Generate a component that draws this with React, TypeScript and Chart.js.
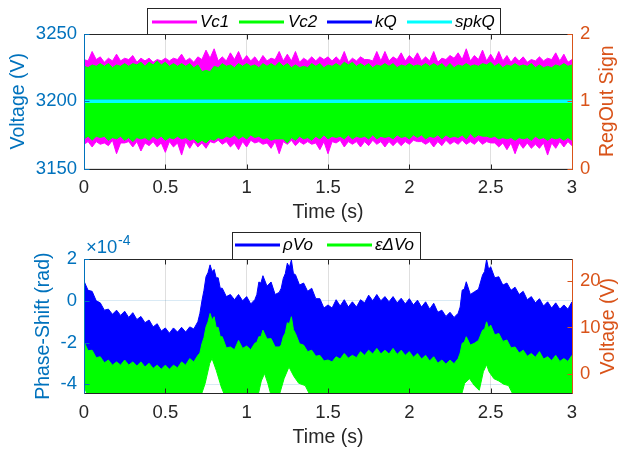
import React, { useEffect, useRef } from 'react';
import { Chart, registerables } from 'chart.js';

Chart.register(...registerables);

// ---------- data: top chart (time in s) ----------
const T_TOP = [
  0, 0.05, 0.1, 0.15, 0.2, 0.25, 0.3, 0.35, 0.4, 0.45, 0.5, 0.55, 0.6, 0.65, 0.7, 0.75, 0.8, 0.85, 0.9, 0.95, 1.0,
  1.05, 1.1, 1.15, 1.2, 1.25, 1.3, 1.35, 1.4, 1.45, 1.5, 1.55, 1.6, 1.65, 1.7, 1.75, 1.8, 1.85, 1.9, 1.95, 2.0,
  2.05, 2.1, 2.15, 2.2, 2.25, 2.3, 2.35, 2.4, 2.45, 2.5, 2.55, 2.6, 2.65, 2.7, 2.75, 2.8, 2.85, 2.9, 2.95, 3.0,
];
// Vc1 envelope: peaks at T_TOP and levels between them (V)
const VC1_HI = [
  3231, 3237, 3233, 3232, 3235, 3232, 3234, 3232, 3232, 3231, 3232, 3232, 3235, 3232, 3233, 3238, 3239, 3233, 3236, 3237, 3234,
  3233, 3234, 3232, 3237, 3235, 3237, 3232, 3233, 3233, 3233, 3233, 3237, 3232, 3233, 3231, 3237, 3237, 3233, 3236, 3234,
  3236, 3233, 3237, 3232, 3234, 3236, 3239, 3234, 3238, 3235, 3237, 3234, 3233, 3233, 3231, 3233, 3232, 3236, 3235, 3231,
];
const VC1_HI_MID = [
  3230, 3231, 3229, 3230, 3230, 3231, 3229, 3230, 3229, 3230, 3230, 3231, 3230, 3229, 3231, 3232, 3230, 3230, 3231, 3230,
  3230, 3229, 3230, 3231, 3230, 3230, 3229, 3230, 3230, 3231, 3230, 3230, 3229, 3230, 3231, 3230, 3230, 3230, 3231, 3230,
  3231, 3230, 3230, 3229, 3231, 3232, 3231, 3230, 3231, 3230, 3230, 3230, 3229, 3230, 3229, 3230, 3230, 3231, 3230, 3229,
];
const VC1_LO = [
  3168, 3166, 3168, 3167, 3161, 3169, 3166, 3163, 3167, 3166, 3162, 3166, 3160, 3165, 3166, 3165, 3169, 3168, 3166, 3164, 3166,
  3169, 3168, 3165, 3161, 3168, 3167, 3168, 3168, 3164, 3161, 3169, 3166, 3168, 3166, 3167, 3168, 3166, 3167, 3167, 3168,
  3170, 3168, 3166, 3167, 3168, 3168, 3168, 3168, 3168, 3169, 3166, 3164, 3161, 3165, 3165, 3165, 3160, 3165, 3166, 3167,
];
const VC1_LO_MID = [
  3170, 3170, 3169, 3171, 3169, 3170, 3170, 3169, 3170, 3169, 3170, 3169, 3170, 3170, 3169, 3170, 3171, 3170, 3169, 3170,
  3171, 3170, 3169, 3170, 3170, 3171, 3170, 3170, 3169, 3170, 3170, 3171, 3170, 3170, 3170, 3171, 3170, 3170, 3170, 3170,
  3171, 3170, 3170, 3170, 3171, 3170, 3171, 3170, 3171, 3170, 3169, 3169, 3169, 3169, 3169, 3168, 3169, 3169, 3170, 3170,
];
// Vc2 envelope (V)
const VC2_HI = [
  3226, 3227, 3228, 3228, 3227, 3228, 3228, 3229, 3229, 3230, 3229, 3228, 3228, 3228, 3227, 3223, 3226, 3228, 3227, 3228, 3228,
  3227, 3228, 3228, 3229, 3228, 3227, 3226, 3228, 3228, 3227, 3228, 3229, 3229, 3228, 3228, 3227, 3228, 3228, 3227, 3228,
  3227, 3228, 3228, 3228, 3228, 3227, 3228, 3227, 3228, 3229, 3228, 3227, 3228, 3227, 3228, 3227, 3226, 3227, 3228, 3227,
];
const VC2_HI_MID = [
  3225, 3226, 3226, 3225, 3226, 3226, 3227, 3226, 3227, 3227, 3226, 3226, 3226, 3225, 3222, 3222, 3225, 3226, 3225, 3226,
  3226, 3225, 3226, 3226, 3226, 3225, 3225, 3225, 3226, 3225, 3226, 3226, 3227, 3226, 3226, 3225, 3226, 3226, 3225, 3226,
  3226, 3226, 3226, 3226, 3225, 3225, 3226, 3226, 3226, 3227, 3226, 3225, 3226, 3226, 3226, 3225, 3225, 3225, 3226, 3226,
];
const VC2_LO = [
  3172, 3171, 3173, 3171, 3172, 3171, 3170, 3172, 3171, 3172, 3171, 3172, 3172, 3171, 3169, 3169, 3171, 3172, 3173, 3172, 3172,
  3173, 3172, 3171, 3172, 3169, 3171, 3172, 3171, 3172, 3172, 3173, 3172, 3172, 3173, 3172, 3172, 3173, 3172, 3173, 3172,
  3173, 3172, 3173, 3172, 3173, 3173, 3172, 3173, 3174, 3173, 3172, 3172, 3171, 3172, 3171, 3172, 3171, 3172, 3171, 3171,
];
const VC2_LO_MID = [
  3174, 3174, 3174, 3173, 3174, 3173, 3173, 3173, 3174, 3174, 3173, 3174, 3173, 3172, 3171, 3172, 3173, 3174, 3175, 3174,
  3175, 3174, 3173, 3172, 3172, 3173, 3174, 3173, 3174, 3175, 3174, 3174, 3175, 3174, 3174, 3175, 3174, 3174, 3175, 3174,
  3175, 3175, 3174, 3175, 3175, 3174, 3175, 3176, 3175, 3174, 3174, 3173, 3173, 3173, 3173, 3174, 3173, 3173, 3173, 3173,
];
const T_FLAT = [0, 3];
const KQ = [1, 1];
const SPKQ = [1, 1];

// ---------- data: bottom chart ----------
const T_BOT = [
  0, 0.05, 0.1, 0.15, 0.2, 0.25, 0.3, 0.35, 0.4, 0.45, 0.5, 0.55, 0.6, 0.65, 0.7, 0.725, 0.75, 0.775, 0.8, 0.825, 0.85,
  0.9, 0.95, 1.0, 1.05, 1.075, 1.1, 1.15, 1.2, 1.225, 1.25, 1.275, 1.3, 1.35, 1.4, 1.45, 1.5, 1.55, 1.6, 1.65, 1.7,
  1.75, 1.8, 1.85, 1.9, 1.95, 2.0, 2.05, 2.1, 2.15, 2.2, 2.25, 2.3, 2.325, 2.35, 2.4, 2.45, 2.475, 2.5, 2.55, 2.6,
  2.65, 2.7, 2.75, 2.8, 2.85, 2.9, 2.95, 3.0,
];
// rhoVo upper envelope, x 1e-4 rad (peaks at T_BOT, ripple troughs between)
const RHO_HI = [
  0.94, 0.45, -0.1, -0.4, -0.45, -0.5, -0.57, -0.75, -0.92, -1.1, -1.3, -1.3, -1.27, -1.25, -1.0, 0.0, 1.15, 1.72, 1.5, 1.1, 0.6,
  0.3, 0.3, 0.2, 0.05, 0.9, 1.2, 0.9, 0.4, 1.07, 1.8, 1.95, 1.25, 0.85, 0.6, 0.1, -0.2, 0.05, 0.05, -0.05, 0.05,
  0.27, 0.3, 0.2, 0.2, 0.12, 0.1, 0.03, -0.05, -0.12, -0.45, -0.55, -0.6, 0.51, 0.91, 0.43, 1.23, 1.98, 1.63, 1.15, 0.85,
  0.65, 0.45, 0.2, 0.1, -0.05, -0.1, -0.2, -0.05,
];
const RHO_HI_MID = [
  0.5, 0.0, -0.45, -0.65, -0.7, -0.8, -0.9, -1.05, -1.25, -1.45, -1.55, -1.5, -1.5, -1.35, -0.6, 0.5, 1.35, 1.4, 1.1, 0.6,
  0.2, 0.05, 0.0, -0.15, 0.3, 0.85, 0.7, 0.3, 0.6, 1.3, 1.6, 1.3, 0.75, 0.45, 0.1, -0.35, -0.35, -0.25, -0.3, -0.3,
  -0.1, 0.0, 0.0, -0.05, -0.1, -0.15, -0.2, -0.3, -0.4, -0.55, -0.75, -0.8, -0.3, 0.55, 0.3, 0.55, 1.4, 1.5, 1.1, 0.75,
  0.5, 0.3, 0.05, -0.1, -0.25, -0.35, -0.4, -0.4,
];
// epsilon dVo upper envelope, V
const EPS_HI = [
  6.9, 5.1, 3.7, 3.0, 2.6, 3.0, 2.6, 2.6, 2.3, 1.9, 1.9, 1.9, 2.6, 3.3, 4.0, 6.5, 10.1, 13.0, 12.3, 10.0, 8.0,
  5.8, 7.2, 6.0, 6.6, 8.0, 9.4, 7.6, 5.8, 8.0, 11.0, 12.3, 8.7, 6.2, 5.1, 4.0, 3.0, 3.7, 4.4, 4.0, 4.8,
  5.1, 5.5, 5.1, 5.5, 5.1, 4.8, 4.4, 4.0, 3.7, 3.0, 3.0, 3.3, 6.6, 8.0, 6.6, 9.4, 11.2, 10.5, 8.7, 7.3,
  5.8, 5.1, 4.4, 4.8, 3.7, 4.0, 3.3, 4.0,
];
const EPS_HI_MID = [
  5.0, 3.5, 2.4, 1.9, 1.9, 1.9, 1.7, 1.5, 1.2, 1.0, 1.0, 1.3, 1.9, 2.6, 4.5, 7.8, 11.2, 11.6, 10.0, 8.0,
  5.6, 5.2, 5.5, 5.2, 6.8, 8.0, 7.5, 5.8, 6.2, 8.8, 10.8, 9.5, 6.5, 4.8, 3.8, 2.8, 2.6, 3.2, 3.4, 3.5,
  4.0, 4.3, 4.3, 4.3, 4.2, 4.0, 3.6, 3.2, 2.8, 2.3, 2.1, 2.2, 4.5, 6.8, 6.2, 7.2, 9.6, 9.8, 8.4, 7.0,
  5.6, 4.5, 3.8, 3.6, 3.2, 2.9, 2.7, 2.7,
];
// lower envelopes (mostly below the visible range)
const T_LO = [
  0, 0.02, 0.72, 0.745, 0.773, 0.787, 0.813, 0.844, 0.865, 1.07, 1.09, 1.11, 1.13, 1.15, 1.2, 1.23, 1.26, 1.29,
  1.32, 1.36, 1.39, 2.32, 2.34, 2.37, 2.4, 2.43, 2.455, 2.475, 2.49, 2.52, 2.55, 2.58, 2.61, 2.64, 3.0,
];
const EPS_LO = [
  -2.4, -4.6, -4.6, -2.0, 2.3, 3.35, 0.8, -2.8, -4.6, -4.6, -1.5, 0.1, -2.0, -4.6, -4.6, -1.0, 1.5, -0.5,
  -2.0, -2.5, -4.6, -4.6, -2.0, -1.0, -2.5, -3.5, 0.5, 2.0, 0.5, -1.0, -1.5, -2.2, -2.5, -4.6, -4.6,
];
const RHO_LO = [
  -3.69, -4.18, -4.18, -3.6, -2.65, -2.41, -2.98, -3.78, -4.18, -4.18, -3.49, -3.14, -3.6, -4.18, -4.18, -3.38, -2.82, -3.27,
  -3.6, -3.71, -4.18, -4.18, -3.6, -3.38, -3.71, -3.93, -3.05, -2.71, -3.05, -3.38, -3.49, -3.65, -3.71, -4.18, -4.18,
];

const X_TICKS = [0, 0.5, 1, 1.5, 2, 2.5, 3];
const TOP_L_TICKS = [3150, 3200, 3250];
const TOP_R_TICKS = [0, 1, 2];
const BOT_L_TICKS = [-4, -2, 0, 2];
const BOT_R_TICKS = [0, 10, 20];

// ---------- styles ----------
const FONT = '"Liberation Sans", Arial, Helvetica, sans-serif';
const AX = '#262626';
const BLUE_AX = '#0072BD';
const ORANGE_AX = '#D95319';
const GRID = 'rgba(38,38,38,0.15)';
const TICK_FONT = { family: FONT, size: 18.5, lineHeight: 1.2 };

const pts = (xs: number[], ys: number[]) => xs.map((x, i) => ({ x, y: ys[i] }));
// peaks at xs, intermediate levels at the middle of each interval
const ptsMid = (xs: number[], ys: number[], mids: number[]) => {
  const out: { x: number; y: number }[] = [];
  xs.forEach((x, i) => {
    out.push({ x, y: ys[i] });
    if (i < xs.length - 1) out.push({ x: (x + xs[i + 1]) / 2, y: mids[i] });
  });
  return out;
};

const base = { pointRadius: 0, tension: 0, clip: 0 } as any;

function band(lo: any[], hi: any[], color: string, axis: string, orderLo: number) {
  return [
    { ...base, data: lo, yAxisID: axis, borderColor: color, borderWidth: 1, fill: false, order: orderLo },
    { ...base, data: hi, yAxisID: axis, borderColor: color, backgroundColor: color, borderWidth: 1, fill: '-1', order: orderLo - 1 },
  ];
}

type LegendItem = { color: string; x1: number; x2: number; text: string; tx: number };
type Decor = {
  xTitleY: number;
  leftTitle: string; leftTitleX: number;
  rightTitle: string; rightTitleX: number;
  lTicks: number[]; rTicks: number[];
  legendBox: [number, number, number, number];
  legendY: number;
  items: LegendItem[];
  exponent?: boolean;
};

function decorPlugin(d: Decor) {
  return {
    id: 'decor',
    afterDatasetsDraw(chart: any) {
      const { ctx, chartArea: a, scales } = chart;
      const L = Math.round(a.left) + 0.5;
      const R = Math.round(a.right) + 0.5;
      const T = Math.round(a.top) + 0.5;
      const B = Math.round(a.bottom) + 0.5;
      const TL = 5;
      ctx.save();
      ctx.lineWidth = 1;
      ctx.strokeStyle = AX;
      ctx.beginPath();
      ctx.moveTo(L, T); ctx.lineTo(R, T);
      ctx.moveTo(L, B); ctx.lineTo(R, B);
      for (const v of X_TICKS) {
        const x = Math.round(scales.x.getPixelForValue(v)) + 0.5;
        ctx.moveTo(x, B); ctx.lineTo(x, B - TL);
        ctx.moveTo(x, T); ctx.lineTo(x, T + TL);
      }
      ctx.stroke();
      ctx.strokeStyle = BLUE_AX;
      ctx.beginPath();
      ctx.moveTo(L, T); ctx.lineTo(L, B);
      for (const v of d.lTicks) {
        const y = Math.round(scales.yL.getPixelForValue(v)) + 0.5;
        ctx.moveTo(L, y); ctx.lineTo(L + TL, y);
      }
      ctx.stroke();
      ctx.strokeStyle = ORANGE_AX;
      ctx.beginPath();
      ctx.moveTo(R, T); ctx.lineTo(R, B);
      for (const v of d.rTicks) {
        const y = Math.round(scales.yR.getPixelForValue(v)) + 0.5;
        ctx.moveTo(R, y); ctx.lineTo(R - TL, y);
      }
      ctx.stroke();
      ctx.restore();
    },
    afterDraw(chart: any) {
      const { ctx, chartArea: a } = chart;
      ctx.save();
      const cx = (a.left + a.right) / 2;
      const cy = (a.top + a.bottom) / 2;
      ctx.font = `19.5px ${FONT}`;
      ctx.textAlign = 'center';
      ctx.textBaseline = 'middle';
      ctx.fillStyle = AX;
      ctx.fillText('Time (s)', cx, d.xTitleY);
      ctx.save();
      ctx.translate(d.leftTitleX, cy);
      ctx.rotate(-Math.PI / 2);
      ctx.fillStyle = BLUE_AX;
      ctx.fillText(d.leftTitle, 0, 0);
      ctx.restore();
      ctx.save();
      ctx.translate(d.rightTitleX, cy);
      ctx.rotate(-Math.PI / 2);
      ctx.fillStyle = ORANGE_AX;
      ctx.fillText(d.rightTitle, 0, 0);
      ctx.restore();
      if (d.exponent) {
        ctx.fillStyle = BLUE_AX;
        ctx.textAlign = 'left';
        ctx.font = `18.5px ${FONT}`;
        ctx.fillText('\u00d710', a.left + 2, a.top - 11.5);
        ctx.font = `14px ${FONT}`;
        ctx.fillText('-4', a.left + 34, a.top - 18);
      }
      const [x1, y1, x2, y2] = d.legendBox;
      ctx.fillStyle = '#ffffff';
      ctx.fillRect(x1, y1, x2 - x1, y2 - y1);
      ctx.strokeStyle = AX;
      ctx.lineWidth = 1;
      ctx.strokeRect(x1 + 0.5, y1 + 0.5, x2 - x1 - 1, y2 - y1 - 1);
      ctx.font = `italic 17px ${FONT}`;
      ctx.textAlign = 'left';
      ctx.textBaseline = 'middle';
      for (const it of d.items) {
        ctx.strokeStyle = it.color;
        ctx.lineWidth = 3;
        ctx.beginPath();
        ctx.moveTo(it.x1, d.legendY);
        ctx.lineTo(it.x2, d.legendY);
        ctx.stroke();
        ctx.fillStyle = '#000000';
        ctx.fillText(it.text, it.tx, d.legendY + 0.5);
      }
      ctx.restore();
    },
  };
}

function xScale(height: number) {
  return {
    type: 'linear',
    position: 'bottom',
    min: 0,
    max: 3,
    afterBuildTicks: (s: any) => { s.ticks = X_TICKS.map((value) => ({ value })); },
    ticks: { color: AX, font: TICK_FONT, padding: 8.5, maxRotation: 0, autoSkip: false, callback: (v: any) => String(v) },
    grid: { color: GRID, drawTicks: false, lineWidth: 1 },
    border: { display: false },
    afterFit: (s: any) => { s.height = height; },
  };
}

function yScale(pos: 'left' | 'right', min: number, max: number, ticks: number[], color: string, width: number, grid: any) {
  return {
    type: 'linear',
    position: pos,
    min,
    max,
    afterBuildTicks: (s: any) => { s.ticks = ticks.map((value) => ({ value })); },
    ticks: { color, font: TICK_FONT, padding: pos === 'left' ? 7 : 8, callback: (v: any) => String(v) },
    grid,
    border: { display: false },
    afterFit: (s: any) => { s.width = width; },
  };
}

function topConfig(): any {
  return {
    type: 'line',
    data: {
      datasets: [
        ...band(ptsMid(T_TOP, VC1_LO, VC1_LO_MID), ptsMid(T_TOP, VC1_HI, VC1_HI_MID), '#FF00FF', 'yL', 6),
        ...band(ptsMid(T_TOP, VC2_LO, VC2_LO_MID), ptsMid(T_TOP, VC2_HI, VC2_HI_MID), '#00FF00', 'yL', 4),
        { ...base, label: 'kQ', data: pts(T_FLAT, KQ), yAxisID: 'yR', borderColor: '#0000FF', borderWidth: 3, fill: false, order: 2 },
        { ...base, label: 'spkQ', data: pts(T_FLAT, SPKQ), yAxisID: 'yR', borderColor: '#00FFFF', borderWidth: 3.5, fill: false, order: 1 },
      ],
    },
    options: {
      responsive: false,
      animation: false,
      devicePixelRatio: 1,
      events: [],
      layout: { padding: { top: 34, left: 0, right: 0, bottom: 0 } },
      plugins: { legend: { display: false }, tooltip: { enabled: false }, title: { display: false } },
      scales: {
        x: xScale(57.5),
        yL: yScale('left', 3150, 3250, TOP_L_TICKS, BLUE_AX, 84, { color: GRID, drawTicks: false }),
        yR: yScale('right', 0, 2, TOP_R_TICKS, ORANGE_AX, 49, { display: false, drawTicks: false }),
      },
    },
    plugins: [
      decorPlugin({
        xTitleY: 213,
        leftTitle: 'Voltage (V)', leftTitleX: 19,
        rightTitle: 'RegOut Sign', rightTitleX: 608,
        lTicks: TOP_L_TICKS, rTicks: TOP_R_TICKS,
        legendBox: [147, 8, 501, 35],
        legendY: 22,
        items: [
          { color: '#FF00FF', x1: 152, x2: 197, text: 'Vc1', tx: 200 },
          { color: '#00FF00', x1: 239, x2: 284, text: 'Vc2', tx: 288 },
          { color: '#0000FF', x1: 327, x2: 372, text: 'kQ', tx: 375 },
          { color: '#00FFFF', x1: 407, x2: 452, text: 'spkQ', tx: 455 },
        ],
      }),
    ],
  };
}

function botConfig(): any {
  return {
    type: 'line',
    data: {
      datasets: [
        ...band(pts(T_LO, RHO_LO), ptsMid(T_BOT, RHO_HI, RHO_HI_MID), '#0000FF', 'yL', 6),
        ...band(pts(T_LO, EPS_LO), ptsMid(T_BOT, EPS_HI, EPS_HI_MID), '#00FF00', 'yR', 4),
      ],
    },
    options: {
      responsive: false,
      animation: false,
      devicePixelRatio: 1,
      events: [],
      layout: { padding: { top: 33, left: 0, right: 0, bottom: 0 } },
      plugins: { legend: { display: false }, tooltip: { enabled: false }, title: { display: false } },
      scales: {
        x: xScale(58.7),
        yL: yScale('left', -4.43, 2, BOT_L_TICKS, BLUE_AX, 84, { color: 'rgba(0,114,189,0.15)', drawTicks: false }),
        yR: yScale('right', -4.15, 24.7, BOT_R_TICKS, ORANGE_AX, 49, { display: false, drawTicks: false }),
      },
    },
    plugins: [
      decorPlugin({
        xTitleY: 212,
        leftTitle: 'Phase-Shift (rad)', leftTitleX: 44,
        rightTitle: 'Voltage (V)', rightTitleX: 609,
        lTicks: BOT_L_TICKS, rTicks: BOT_R_TICKS,
        legendBox: [232, 6, 421, 34],
        legendY: 19,
        exponent: true,
        items: [
          { color: '#0000FF', x1: 235, x2: 280, text: '\u03c1Vo', tx: 283 },
          { color: '#00FF00', x1: 327, x2: 372, text: '\u03b5\u0394Vo', tx: 375 },
        ],
      }),
    ],
  };
}

export default function App() {
  const topRef = useRef<HTMLCanvasElement>(null);
  const botRef = useRef<HTMLCanvasElement>(null);
  useEffect(() => {
    const c1 = new Chart(topRef.current as HTMLCanvasElement, topConfig());
    const c2 = new Chart(botRef.current as HTMLCanvasElement, botConfig());
    return () => {
      c1.destroy();
      c2.destroy();
    };
  }, []);
  return (
    <div style={{ position: 'fixed', left: 0, top: 0, width: 621, height: 452, background: '#ffffff' }}>
      <canvas ref={topRef} width={621} height={226} style={{ position: 'absolute', left: 0, top: 0, width: 621, height: 226 }} />
      <canvas ref={botRef} width={621} height={226} style={{ position: 'absolute', left: 0, top: 226, width: 621, height: 226 }} />
    </div>
  );
}
